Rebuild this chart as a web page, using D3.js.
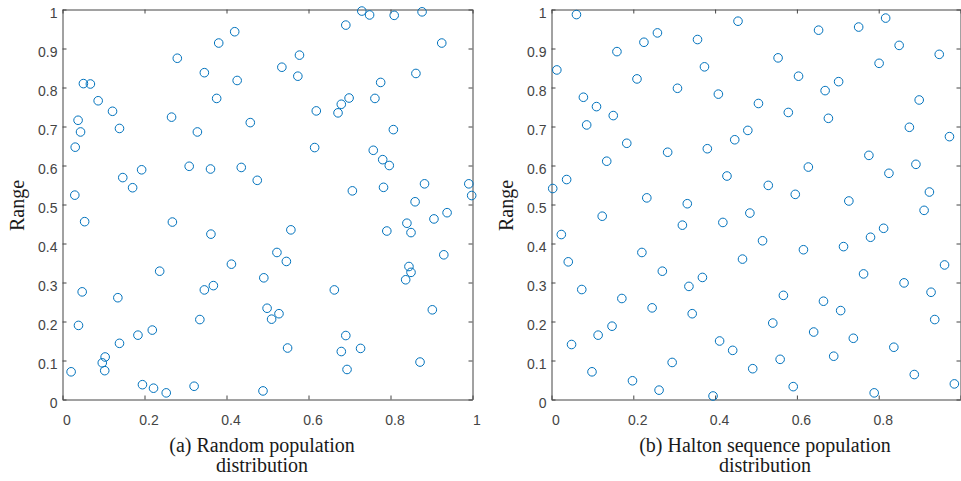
<!DOCTYPE html>
<html lang="en">
  <head>
    <meta charset="UTF-8" />
    <title>Random vs Halton population distribution</title>
    <script src="https://d3js.org/d3.v7.min.js"></script>
    <style>
      body {
        margin: 0;
        background: #fff;
      }
      svg {
        display: block;
      }
      .axis path,
      .axis line {
        stroke: #454545;
        stroke-width: 1px;
      }
      .axis text {
        font-family: "Liberation Sans", Arial, sans-serif;
        font-size: 14px;
        fill: #444;
      }
      .label {
        font-family: "Liberation Serif", "Times New Roman", serif;
        font-size: 20px;
        fill: #1a1a1a;
      }
      .pt {
        fill: none;
        stroke: #0072bd;
        stroke-width: 1px;
      }
    </style>
  </head>
  <body>
    <div id="chart"></div>

    <script>
      // (a) random population: [x, y]
      const randomPoints = [
        [0.030, 0.524], [0.031, 0.647], [0.038, 0.716], [0.044, 0.686],
        [0.051, 0.810], [0.068, 0.809], [0.087, 0.766], [0.122, 0.739],
        [0.139, 0.695], [0.147, 0.569], [0.171, 0.543], [0.193, 0.589],
        [0.280, 0.875], [0.266, 0.724], [0.309, 0.598], [0.329, 0.686],
        [0.346, 0.838], [0.361, 0.591], [0.376, 0.772], [0.381, 0.914],
        [0.420, 0.943], [0.426, 0.818], [0.436, 0.595], [0.458, 0.710],
        [0.730, 0.996], [0.749, 0.986], [0.809, 0.985], [0.877, 0.994],
        [0.691, 0.960], [0.925, 0.914], [0.578, 0.883], [0.535, 0.852],
        [0.574, 0.829], [0.862, 0.836], [0.776, 0.813], [0.699, 0.773],
        [0.680, 0.757], [0.762, 0.772], [0.619, 0.740], [0.672, 0.735],
        [0.807, 0.692], [0.615, 0.646], [0.475, 0.562], [0.758, 0.639],
        [0.781, 0.615], [0.797, 0.600], [0.707, 0.535], [0.783, 0.544],
        [0.883, 0.553], [0.991, 0.553], [0.998, 0.523], [0.860, 0.507],
        [0.054, 0.456], [0.268, 0.455], [0.362, 0.424], [0.412, 0.347],
        [0.237, 0.329], [0.048, 0.276], [0.135, 0.261], [0.346, 0.281],
        [0.368, 0.292], [0.039, 0.190], [0.335, 0.205], [0.219, 0.178],
        [0.184, 0.165], [0.139, 0.144], [0.104, 0.109], [0.097, 0.094],
        [0.103, 0.074], [0.021, 0.071], [0.195, 0.038], [0.222, 0.029],
        [0.253, 0.017], [0.321, 0.034], [0.938, 0.479], [0.906, 0.463],
        [0.840, 0.452], [0.850, 0.428], [0.791, 0.432], [0.557, 0.435],
        [0.523, 0.377], [0.546, 0.354], [0.491, 0.312], [0.930, 0.371],
        [0.845, 0.341], [0.850, 0.326], [0.837, 0.307], [0.663, 0.281],
        [0.499, 0.234], [0.528, 0.220], [0.510, 0.206], [0.902, 0.230],
        [0.691, 0.164], [0.549, 0.132], [0.680, 0.123], [0.727, 0.131],
        [0.694, 0.077], [0.872, 0.096], [0.489, 0.022]
      ];

      // (b) Halton sequence population: [x, y]
      const haltonPoints = [
        [0.061, 0.987], [0.013, 0.845], [0.160, 0.892], [0.226, 0.916],
        [0.259, 0.940], [0.357, 0.923], [0.374, 0.853], [0.209, 0.822],
        [0.308, 0.798], [0.408, 0.783], [0.078, 0.775], [0.110, 0.751],
        [0.151, 0.728], [0.086, 0.704], [0.184, 0.657], [0.284, 0.634],
        [0.381, 0.643], [0.135, 0.611], [0.037, 0.564], [0.003, 0.541],
        [0.233, 0.517], [0.332, 0.502], [0.429, 0.573], [0.456, 0.970],
        [0.653, 0.947], [0.751, 0.955], [0.817, 0.978], [0.850, 0.908],
        [0.948, 0.885], [0.554, 0.876], [0.801, 0.862], [0.604, 0.829],
        [0.702, 0.815], [0.669, 0.792], [0.506, 0.759], [0.579, 0.736],
        [0.677, 0.721], [0.899, 0.768], [0.875, 0.698], [0.973, 0.674],
        [0.480, 0.690], [0.448, 0.666], [0.776, 0.626], [0.628, 0.596],
        [0.530, 0.549], [0.596, 0.526], [0.727, 0.509], [0.891, 0.603],
        [0.825, 0.580], [0.924, 0.532], [0.124, 0.470], [0.024, 0.423],
        [0.320, 0.447], [0.419, 0.454], [0.221, 0.377], [0.041, 0.353],
        [0.271, 0.329], [0.074, 0.282], [0.369, 0.313], [0.336, 0.290],
        [0.172, 0.259], [0.246, 0.235], [0.344, 0.220], [0.148, 0.188],
        [0.114, 0.165], [0.049, 0.141], [0.411, 0.150], [0.295, 0.095],
        [0.099, 0.071], [0.198, 0.048], [0.263, 0.024], [0.395, 0.009],
        [0.911, 0.485], [0.485, 0.478], [0.812, 0.439], [0.780, 0.416],
        [0.516, 0.407], [0.616, 0.384], [0.714, 0.392], [0.961, 0.345],
        [0.467, 0.360], [0.763, 0.322], [0.862, 0.299], [0.928, 0.275],
        [0.567, 0.267], [0.665, 0.252], [0.707, 0.228], [0.937, 0.205],
        [0.541, 0.196], [0.641, 0.173], [0.738, 0.157], [0.443, 0.126],
        [0.837, 0.134], [0.559, 0.103], [0.690, 0.111], [0.492, 0.079],
        [0.887, 0.064], [0.985, 0.040], [0.591, 0.033], [0.789, 0.017]
      ];

      const xTicks = [0, 0.2, 0.4, 0.6, 0.8, 1];
      const yTicks = [0, 0.1, 0.2, 0.3, 0.4, 0.5, 0.6, 0.7, 0.8, 0.9, 1];
      const yLabel = "Range";
      const captions = [
        ["(a) Random population", "distribution"],
        ["(b) Halton sequence population", "distribution"]
      ];

      const width = 961;
      const height = 481;
      const plotTop = 9.5;
      const plotBottom = 399.5;

      const svg = d3
        .select("#chart")
        .append("svg")
        .attr("width", width)
        .attr("height", height);

      const panels = [
        { left: 62.5, right: 472.5, data: randomPoints, caption: captions[0], capX: 262, labX: 23.5 },
        { left: 551.5, right: 960.5, data: haltonPoints, caption: captions[1], capX: 765, labX: 512.5 }
      ];

      const fmt = (d) => (d === 0 || d === 1 ? String(d) : d3.format(".1f")(d));

      panels.forEach((p) => {
        const x = d3.scaleLinear().domain([0, 1]).range([p.left, p.right]);
        const y = d3.scaleLinear().domain([0, 1]).range([plotBottom, plotTop]);

        const g = svg.append("g");

        // bottom axis, ticks point inward; the right panel runs off the page,
        // so its last label falls outside and is dropped
        g.append("g")
          .attr("class", "axis")
          .attr("transform", `translate(0,${plotBottom})`)
          .call(d3.axisBottom(x).tickValues(xTicks).tickFormat(fmt).tickSizeInner(-4).tickSizeOuter(0).tickPadding(16))
          .call((s) =>
            s.selectAll("text")
              .attr("dx", 4)
              .filter((d) => x(d) + 8 > width)
              .remove()
          );

        g.append("g")
          .attr("class", "axis")
          .attr("transform", `translate(${p.left},0)`)
          .call(d3.axisLeft(y).tickValues(yTicks).tickFormat(fmt).tickSizeInner(-4).tickSizeOuter(0).tickPadding(5))
          .call((s) => s.selectAll("text").attr("dy", "0.57em"));

        // box: top and right
        g.append("g")
          .attr("class", "axis")
          .attr("transform", `translate(0,${plotTop})`)
          .call(d3.axisTop(x).tickValues(xTicks).tickFormat("").tickSizeInner(-4).tickSizeOuter(0));

        g.append("g")
          .attr("class", "axis")
          .attr("transform", `translate(${p.right},0)`)
          .call(d3.axisRight(y).tickValues(yTicks).tickFormat("").tickSizeInner(-4).tickSizeOuter(0));

        g.append("g")
          .selectAll("circle")
          .data(p.data)
          .join("circle")
          .attr("class", "pt")
          .attr("cx", (d) => x(d[0]))
          .attr("cy", (d) => y(d[1]))
          .attr("r", 4.3);

        g.append("text")
          .attr("class", "label")
          .attr("text-anchor", "middle")
          .attr("transform", `translate(${p.labX},${(plotTop + plotBottom) / 2 + 1}) rotate(-90)`)
          .text(yLabel);

        g.append("text")
          .attr("class", "label")
          .attr("text-anchor", "middle")
          .attr("x", p.capX)
          .attr("y", 452)
          .text(p.caption[0]);

        g.append("text")
          .attr("class", "label")
          .attr("text-anchor", "middle")
          .attr("x", p.capX)
          .attr("y", 472)
          .text(p.caption[1]);
      });
    </script>
  </body>
</html>
